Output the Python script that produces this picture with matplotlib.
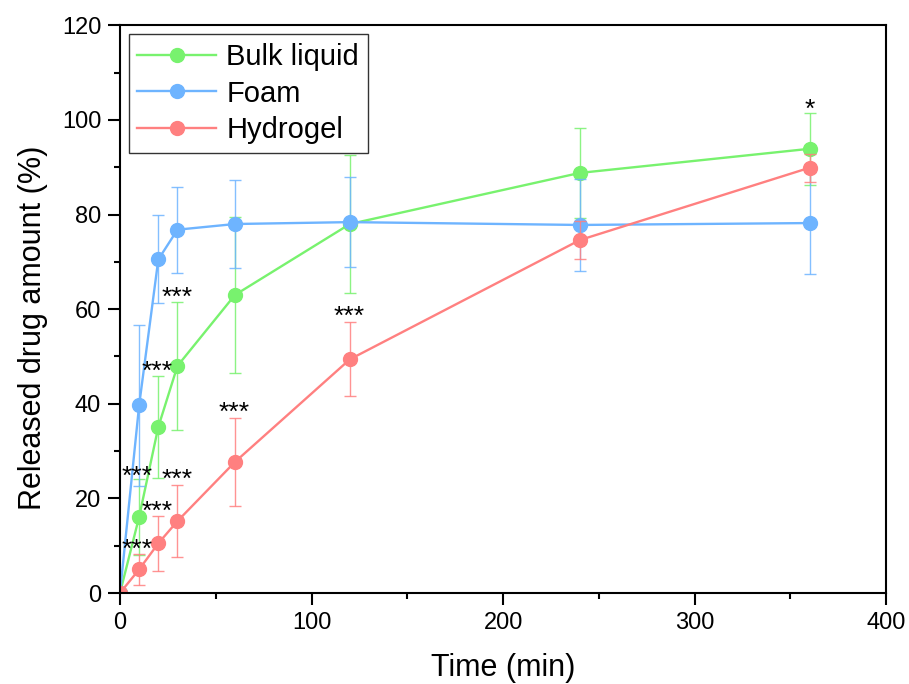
import numpy as np
import matplotlib
matplotlib.use('Agg')
import matplotlib.pyplot as plt
from matplotlib.ticker import MultipleLocator

plt.rcParams['font.family'] = ['Liberation Sans', 'DejaVu Sans']

time_min = [0, 10, 20, 30, 60, 120, 240, 360]

bulk = [0, 16.1, 35.1, 48.0, 63.0, 78.0, 88.8, 93.9]
bulk_err = [0, 8.0, 10.8, 13.6, 16.5, 14.5, 9.5, 7.6]

foam = [0, 39.7, 70.5, 76.8, 78.0, 78.4, 77.8, 78.2]
foam_err = [0, 17.0, 9.3, 9.1, 9.2, 9.5, 9.7, 10.7]

hydro = [0, 5.0, 10.5, 15.2, 27.7, 49.4, 74.6, 89.9]
hydro_err = [0, 3.2, 5.8, 7.6, 9.2, 7.8, 4.1, 3.0]

# significance labels (x, y, text)
sig_x = [8.9, 8.9, 19.3, 29.8, 19.3, 29.8, 59.8, 119.6, 359.8]
sig_y = [24.6, 9.2, 46.8, 62.4, 17.2, 24.0, 38.0, 58.4, 102.2]
sig_txt = ['***', '***', '***', '***', '***', '***', '***', '***', '*']

c_bulk = '#78F26E'
c_foam = '#6EB4FF'
c_hydro = '#FF8080'

fig = plt.figure(figsize=(9.09, 6.84), dpi=100)
ax = fig.add_axes([0.132, 0.133, 0.843, 0.830])

for y, e, c, lab in [(bulk, bulk_err, c_bulk, 'Bulk liquid'),
                     (foam, foam_err, c_foam, 'Foam'),
                     (hydro, hydro_err, c_hydro, 'Hydrogel')]:
    ax.errorbar(time_min, y, yerr=e, fmt='none', ecolor=c, elinewidth=1.0,
                capsize=4.5, capthick=1.0, alpha=0.85)
    ax.plot(time_min, y, '-o', color=c, lw=1.7, ms=10, label=lab)

for x, y, t in zip(sig_x, sig_y, sig_txt):
    ax.text(x, y, t, ha='center', va='center', fontsize=19, color='black')

ax.set_xlim(0, 400)
ax.set_ylim(0, 120)
ax.xaxis.set_major_locator(MultipleLocator(100))
ax.xaxis.set_minor_locator(MultipleLocator(50))
ax.yaxis.set_major_locator(MultipleLocator(20))
ax.yaxis.set_minor_locator(MultipleLocator(10))
ax.tick_params(which='both', direction='out', top=False, right=False,
               width=1.5, labelsize=17, pad=5)
ax.tick_params(which='major', length=8.5)
ax.tick_params(which='minor', length=4.5)
for s in ax.spines.values():
    s.set_linewidth(1.5)

ax.set_xlabel('Time (min)', fontsize=22, labelpad=14)
ax.set_ylabel('Released drug amount (%)', fontsize=22, labelpad=10)
ax.yaxis.label.set_y(0.468)

leg = ax.legend(loc='upper left', fontsize=21, frameon=True, fancybox=False,
                edgecolor='black', handlelength=2.7, handletextpad=0.35,
                borderpad=0.3, labelspacing=0.3, borderaxespad=0.3)
leg.get_frame().set_linewidth(1.0)

plt.savefig('out.png', dpi=100)
plt.close()
